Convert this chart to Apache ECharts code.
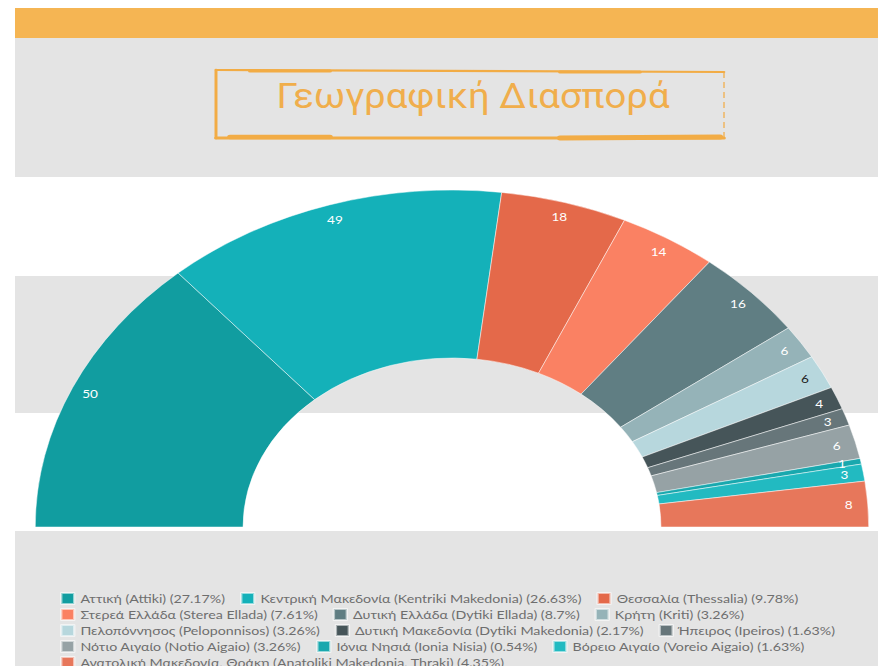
<!DOCTYPE html>
<html><head><meta charset="utf-8">
<script src="https://cdn.jsdelivr.net/npm/echarts@6/dist/echarts.min.js"></script>
<style>
html,body{margin:0;padding:0;overflow:hidden;background:#fff;width:878px;height:666px}
#c{width:710px;height:666px;transform:scaleX(1.2366);transform-origin:0 0;}
</style>
</head><body><div id="c"></div>
<script>
// ---- data ----
const regions = [
  "Αττική (Attiki)",
  "Κεντρική Μακεδονία (Kentriki Makedonia)",
  "Θεσσαλία (Thessalia)",
  "Στερεά Ελλάδα (Sterea Ellada)",
  "Δυτική Ελλάδα (Dytiki Ellada)",
  "Κρήτη (Kriti)",
  "Πελοπόννησος (Peloponnisos)",
  "Δυτική Μακεδονία (Dytiki Makedonia)",
  "Ήπειρος (Ipeiros)",
  "Νότιο Αιγαίο (Notio Aigaio)",
  "Ιόνια Νησιά (Ionia Nisia)",
  "Βόρειο Αιγαίο (Voreio Aigaio)",
  "Ανατολική Μακεδονία, Θράκη (Anatoliki Makedonia, Thraki)"
];
const counts = [50, 49, 18, 14, 16, 6, 6, 4, 3, 6, 1, 3, 8];
const titleText = "Γεωγραφική Διασπορά";

// ---- styles ----
const sliceColors = ["#119DA0","#14B1B9","#E4694A","#FA8163","#607E83","#95B3B8",
  "#B7D7DD","#465559","#67767A","#96A2A5","#19A8AE","#22BAC1","#E7775B"];
const labelColors = ["#fff","#fff","#fff","#fff","#fff","#fff","#222","#fff","#fff","#fff","#fff","#fff","#fff"];

const SX = 1.2366;
const W = 710, H = 666;
const X = v => v / SX;

const total = counts.reduce((a, b) => a + b, 0);
const pct = {};
regions.forEach((r, i) => { pct[r] = +(counts[i] / total * 100).toFixed(2); });

const legendData = [];
regions.forEach((r, i) => { legendData.push(r); if (i === 2 || i === 5 || i === 8 || i === 11) legendData.push(''); });

const chart = echarts.init(document.getElementById('c'), null, {renderer: 'svg', width: W, height: H});

const bandX = X(15);
const bands = [
  {y: 8, h: 30, c: '#F5B553'},
  {y: 38, h: 139, c: '#E4E4E4'},
  {y: 276, h: 137, c: '#E4E4E4'},
  {y: 531, h: 135, c: '#E4E4E4'}
];
const graphics = bands.map(b => ({
  type: 'rect', z: -10, silent: true,
  shape: {x: bandX, y: b.y, width: W - bandX, height: b.h},
  style: {fill: b.c}
}));
const boxL = X(216), boxR = X(724), boxT = 70, boxB = 138;
const orange = '#F2AC45';
const seg = (x1, y1, x2, y2, w, extra) => ({type: 'line', silent: true,
  shape: {x1: x1, y1: y1, x2: x2, y2: y2}, style: Object.assign({stroke: orange, lineWidth: w, lineCap: 'round'}, extra || {})});
graphics.push(
  seg(boxL, boxT, boxR, boxT + 2, 2.2),
  seg(X(250), boxT + 1, X(330), boxT + 1, 3.2),
  seg(X(560), boxT + 2, X(640), boxT + 2, 3),
  seg(boxL, boxB, boxR, boxB, 3),
  seg(X(230), boxB - 1, X(330), boxB - 1, 4.5),
  seg(X(560), boxB, X(720), boxB - 1, 5),
  seg(boxL, boxT, boxL, boxB, 2.4),
  seg(boxR, boxT + 2, boxR, boxB, 1, {lineDash: [6, 4], lineCap: 'butt'}),
  {type: 'text', silent: true, x: X(473), y: 96, scaleX: 0.86,
   style: {text: titleText, fill: '#F0AE4C', font: '400 36px Roboto', textAlign: 'center', textVerticalAlign: 'middle'}}
);

chart.setOption({
  animation: false,
  backgroundColor: 'transparent',
  color: sliceColors,
  graphic: graphics,
  legend: {
    data: legendData,
    left: X(60), top: 592, padding: 0,
    orient: 'horizontal',
    icon: 'rect', itemWidth: 10.5, itemHeight: 11, itemGap: 3,
    formatter: name => name + ' (' + pct[name] + '%)',
    textStyle: {color: '#6E6E6E', fontSize: 11.5, fontFamily: 'Lato', lineHeight: 11, padding: [0, 9, 0, 0]},
    selectedMode: false
  },
  series: [
    {
      type: 'pie',
      center: [X(452), 527],
      radius: [169, 337],
      startAngle: 180, endAngle: 360,
      label: {show: false}, labelLine: {show: false},
      itemStyle: {borderColor: 'rgba(255,255,255,0.55)', borderWidth: 0.8},
      emphasis: {disabled: true},
      data: regions.map((r, i) => ({name: r, value: counts[i]}))
    },
    {
      type: 'pie',
      center: [X(452), 527],
      radius: [300, 337],
      startAngle: 180, endAngle: 360,
      silent: true, legendHoverLink: false,
      avoidLabelOverlap: false,
      minShowLabelAngle: 0,
      labelLayout: {hideOverlap: false},
      emphasis: {disabled: true},
      labelLine: {show: false},
      label: {show: true, position: 'inside', formatter: '{c}', fontSize: 11, fontFamily: 'Lato'},
      itemStyle: {color: 'rgba(0,0,0,0)', borderWidth: 0},
      data: regions.map((r, i) => ({name: r, value: counts[i], label: {color: labelColors[i]}}))
    }
  ]
});
</script>
</body></html>
